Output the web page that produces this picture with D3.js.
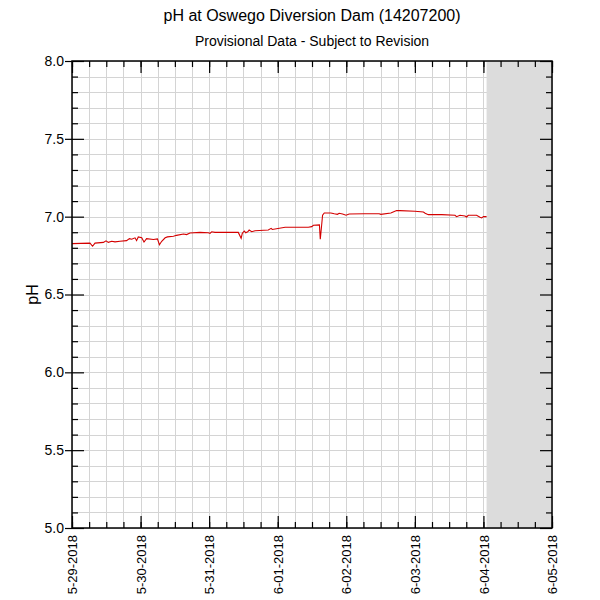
<!DOCTYPE html>
<html>
<head>
<meta charset="utf-8">
<script src="https://cdn.jsdelivr.net/npm/d3@7"></script>
<style>
  body { margin: 0; background: #ffffff; }
  svg { display: block; font-family: "Liberation Sans", Arial, Helvetica, sans-serif; }
</style>
</head>
<body>
<svg id="chart" width="600" height="600"></svg>
<script>
// ---- Data ----
const title = "pH at Oswego Diversion Dam (14207200)";
const subtitle = "Provisional Data - Subject to Revision";
const yLabel = "pH";
const xDomain = ["2018-05-29 00:00", "2018-06-05 00:00"];
const yDomain = [5.0, 8.0];
const yTickValues = [5.0, 5.5, 6.0, 6.5, 7.0, 7.5, 8.0];

const times = [
  "2018-05-29 00:00","2018-05-29 06:18","2018-05-29 07:12","2018-05-29 08:03","2018-05-29 11:00",
  "2018-05-29 11:54","2018-05-29 12:42","2018-05-29 13:54","2018-05-29 15:03","2018-05-29 16:48",
  "2018-05-29 19:06","2018-05-29 20:06","2018-05-29 20:54","2018-05-29 22:03","2018-05-29 22:36",
  "2018-05-29 23:12","2018-05-30 00:24","2018-05-30 01:12","2018-05-30 02:06","2018-05-30 04:30",
  "2018-05-30 05:54","2018-05-30 06:36","2018-05-30 07:24","2018-05-30 08:36","2018-05-30 09:24",
  "2018-05-30 11:30","2018-05-30 12:36","2018-05-30 15:00","2018-05-30 16:06","2018-05-30 17:18",
  "2018-05-30 20:48","2018-05-30 23:42","2018-05-31 00:18","2018-05-31 00:54","2018-05-31 02:03",
  "2018-05-31 10:12","2018-05-31 11:12","2018-05-31 11:36","2018-05-31 12:18","2018-05-31 12:48",
  "2018-05-31 13:30","2018-05-31 14:00","2018-05-31 14:54","2018-05-31 16:03","2018-05-31 20:42",
  "2018-05-31 21:42","2018-05-31 22:06","2018-06-01 02:36","2018-06-01 06:03","2018-06-01 10:42",
  "2018-06-01 11:54","2018-06-01 12:30","2018-06-01 14:36","2018-06-01 14:54","2018-06-01 15:18",
  "2018-06-01 15:42","2018-06-01 16:18","2018-06-01 18:36","2018-06-01 19:48","2018-06-01 20:54",
  "2018-06-01 21:30","2018-06-01 22:42","2018-06-01 23:54","2018-06-02 01:00","2018-06-02 06:18",
  "2018-06-02 11:30","2018-06-02 12:06","2018-06-02 15:36","2018-06-02 16:24","2018-06-02 17:36",
  "2018-06-02 18:48","2018-06-03 00:03","2018-06-03 03:00","2018-06-03 03:36","2018-06-03 04:42",
  "2018-06-03 09:24","2018-06-03 14:03","2018-06-03 14:36","2018-06-03 15:48","2018-06-03 17:33",
  "2018-06-03 18:06","2018-06-03 18:42","2018-06-03 21:36","2018-06-03 22:48","2018-06-03 23:24",
  "2018-06-04 00:00","2018-06-04 01:06"
];
const phValues = [
  6.827,6.830,6.810,6.830,6.835,
  6.845,6.835,6.842,6.838,6.842,
  6.846,6.859,6.855,6.864,6.846,
  6.870,6.864,6.837,6.859,6.853,
  6.857,6.820,6.842,6.864,6.870,
  6.874,6.880,6.889,6.885,6.895,
  6.899,6.897,6.893,6.903,6.899,
  6.899,6.861,6.893,6.908,6.897,
  6.903,6.914,6.903,6.910,6.914,
  6.925,6.918,6.932,6.932,6.932,
  6.936,6.945,6.947,6.855,6.930,
  7.009,7.024,7.024,7.019,7.015,
  7.022,7.017,7.009,7.017,7.019,
  7.019,7.015,7.024,7.030,7.039,
  7.039,7.035,7.030,7.022,7.013,
  7.013,7.009,7.000,7.009,7.004,
  6.998,7.009,7.009,6.996,6.992,
  7.000,7.000
];

// ---- Chart ----
const parse = d3.utcParse("%Y-%m-%d %H:%M");
const data = times.map((t, i) => ({ t: parse(t), v: phValues[i] }));
const svg = d3.select("#chart");

const mLeft = 72, mRight = 552, mTop = 61, mBottom = 528;
const cx = (mLeft + mRight) / 2;
const x = d3.scaleUtc().domain(xDomain.map(parse)).range([mLeft, mRight]);
const y = d3.scaleLinear().domain(yDomain).range([mBottom, mTop]);

// grid
const gridX = x.ticks(d3.utcHour.every(6));
const gridY = d3.range(50, 81).map(d => d / 10);
const grid = svg.append("g").attr("stroke", "#d4d4d4").attr("stroke-width", 1);
grid.selectAll("line.gx").data(gridX).join("line").attr("class", "gx")
  .attr("x1", d => Math.round(x(d)) + 0.5).attr("x2", d => Math.round(x(d)) + 0.5)
  .attr("y1", mTop).attr("y2", mBottom);
grid.selectAll("line.gy").data(gridY).join("line").attr("class", "gy")
  .attr("x1", mLeft).attr("x2", mRight)
  .attr("y1", d => Math.round(y(d)) + 0.5).attr("y2", d => Math.round(y(d)) + 0.5);

// no-data shaded region
const lastT = data[data.length - 1].t;
svg.append("rect")
  .attr("x", x(lastT)).attr("y", mTop)
  .attr("width", mRight - x(lastT)).attr("height", mBottom - mTop)
  .attr("fill", "#dcdcdc");

// line
svg.append("path")
  .datum(data)
  .attr("fill", "none")
  .attr("stroke", "#d40000")
  .attr("stroke-width", 1.1)
  .attr("d", d3.line().x(d => x(d.t)).y(d => y(d.v)));

// axes
const dayTicks = x.ticks(d3.utcDay.every(1));
const fmt = d3.utcFormat("%-m-%d-%Y");
const styleAxis = g => { g.select(".domain").remove(); g.selectAll("line").attr("stroke", "#000").attr("stroke-width", 1.2); };

// bottom minor + major
svg.append("g").attr("transform", `translate(0,${mBottom})`)
  .call(d3.axisBottom(x).tickValues(gridX).tickSize(-6).tickFormat(""))
  .call(styleAxis);
const bx = svg.append("g").attr("transform", `translate(0,${mBottom})`)
  .call(d3.axisBottom(x).tickValues(dayTicks).tickSize(-12).tickFormat(fmt))
  .call(styleAxis);
bx.selectAll("text")
  .attr("transform", "rotate(-90)")
  .attr("text-anchor", "end")
  .attr("x", -7).attr("y", 0).attr("dy", "0.36em")
  .attr("font-size", 13).attr("fill", "#000")
  .attr("font-family", "Liberation Sans, Arial, sans-serif");

// top
svg.append("g").attr("transform", `translate(0,${mTop})`)
  .call(d3.axisTop(x).tickValues(gridX).tickSize(-6).tickFormat(""))
  .call(styleAxis);
svg.append("g").attr("transform", `translate(0,${mTop})`)
  .call(d3.axisTop(x).tickValues(dayTicks).tickSize(-12).tickFormat(""))
  .call(styleAxis);

// left
const minorY = gridY.filter(v => !yTickValues.some(t => Math.abs(t - v) < 1e-6));
svg.append("g").attr("transform", `translate(${mLeft},0)`)
  .call(d3.axisLeft(y).tickValues(minorY).tickSize(-6).tickFormat(""))
  .call(styleAxis);
const ly = svg.append("g").attr("transform", `translate(${mLeft},0)`)
  .call(d3.axisLeft(y).tickValues(yTickValues).tickSizeInner(-12).tickSizeOuter(0).tickPadding(8).tickFormat(d3.format(".1f")))
  .call(styleAxis);
ly.selectAll(".tick").append("line").attr("x1", -7).attr("x2", 0).attr("stroke", "#000").attr("stroke-width", 1.2);
ly.selectAll("text").attr("x", -8).attr("font-size", 14).attr("fill", "#000")
  .attr("font-family", "Liberation Sans, Arial, sans-serif");

// right
svg.append("g").attr("transform", `translate(${mRight},0)`)
  .call(d3.axisRight(y).tickValues(minorY).tickSize(-6).tickFormat(""))
  .call(styleAxis);
svg.append("g").attr("transform", `translate(${mRight},0)`)
  .call(d3.axisRight(y).tickValues(yTickValues).tickSize(-12).tickFormat(""))
  .call(styleAxis);

// frame
svg.append("rect").attr("x", mLeft).attr("y", mTop)
  .attr("width", mRight - mLeft).attr("height", mBottom - mTop)
  .attr("fill", "none").attr("stroke", "#000").attr("stroke-width", 1.5);

// titles
svg.append("text").attr("x", cx).attr("y", 21).attr("text-anchor", "middle")
  .attr("font-size", 16).attr("fill", "#000").text(title);
svg.append("text").attr("x", cx).attr("y", 46).attr("text-anchor", "middle")
  .attr("font-size", 14).attr("fill", "#000").text(subtitle);
svg.append("text")
  .attr("transform", `translate(38,${(mTop + mBottom) / 2}) rotate(-90)`)
  .attr("text-anchor", "middle")
  .attr("font-size", 16).attr("fill", "#000").text(yLabel);
</script>
</body>
</html>
